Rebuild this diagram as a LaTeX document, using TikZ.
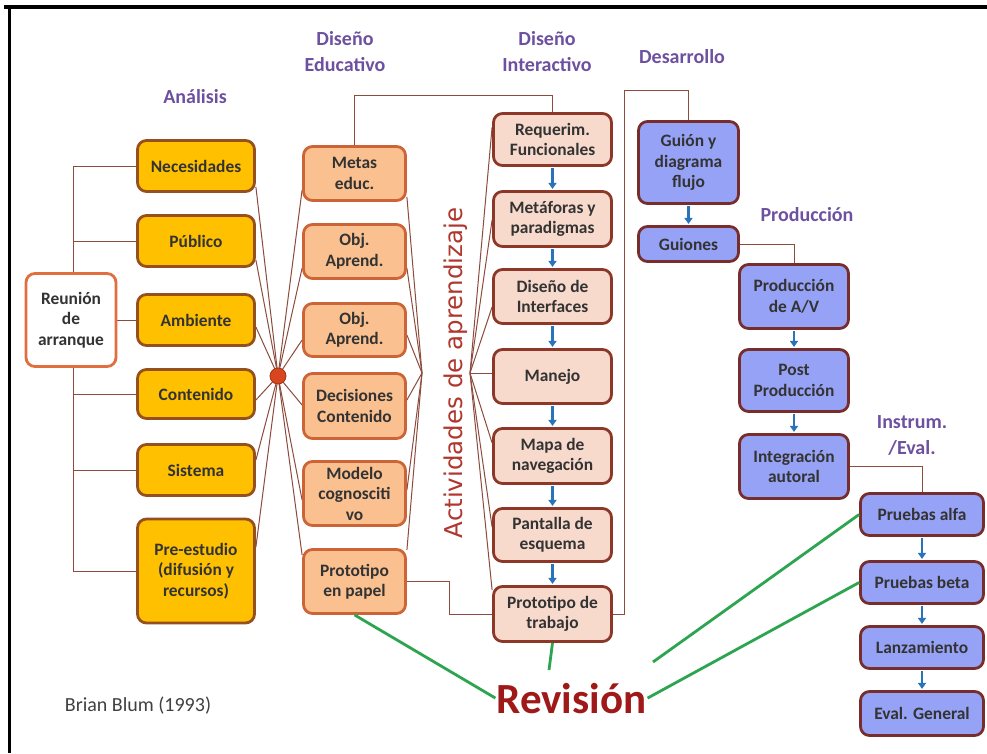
\documentclass[tikz,border=0pt]{standalone}
\usepackage{fontspec}
\setmainfont{Carlito}
\newfontfamily\verafont{DejaVu Sans}
\usetikzlibrary{backgrounds,arrows.meta,calc}

\definecolor{amber}{RGB}{255,192,0}
\definecolor{amberedge}{RGB}{150,80,30}
\definecolor{startedge}{RGB}{225,110,60}
\definecolor{peach}{RGB}{250,192,144}
\definecolor{peachedge}{RGB}{205,100,55}
\definecolor{blush}{RGB}{248,218,205}
\definecolor{blushedge}{RGB}{140,55,40}
\definecolor{periw}{RGB}{150,162,245}
\definecolor{periwedge}{RGB}{120,45,45}
\definecolor{linkbrown}{RGB}{140,75,60}
\definecolor{hubred}{RGB}{215,70,30}
\definecolor{flowblue}{RGB}{40,115,185}
\definecolor{revgreen}{RGB}{45,165,80}
\definecolor{phase}{RGB}{110,80,160}
\definecolor{revred}{RGB}{160,25,25}
\definecolor{actred}{RGB}{175,55,45}

\tikzset{
  box/.style={rounded corners=9pt, line width=2.8pt, align=center,
    font=\fontsize{17.4}{20.5}\selectfont\bfseries, text=black!80, inner sep=2pt},
  yel/.style={box, fill=amber, draw=amberedge, minimum width=117pt},
  startbox/.style={box, fill=white, draw=startedge, minimum width=90pt, minimum height=93pt},
  edu/.style={box, fill=peach, draw=peachedge, minimum width=102pt},
  inter/.style={box, fill=blush, draw=blushedge, minimum width=118pt},
  dev/.style={box, fill=periw, draw=periwedge},
  phaselabel/.style={font=\fontsize{20}{26}\selectfont\bfseries, text=phase, align=center},
  link/.style={draw=linkbrown, line width=1pt},
  flow/.style={draw=flowblue, line width=2.4pt, -{Triangle[length=6pt,width=8pt]}, shorten >=1.2pt, shorten <=1.2pt},
  review/.style={draw=revgreen, line width=2.8pt}
}

\begin{document}
\begin{tikzpicture}[x=1pt,y=-1pt]
\useasboundingbox (0,0) rectangle (987,753);

% frame
\draw[line width=3.6pt] (4,7) -- (987,7);
\draw[line width=3.6pt] (9.5,5) -- (9.5,753);

% phase titles
\node[phaselabel] (tAna) at (195,97) {Análisis};
\node[phaselabel] (tEdu) at (345,52) {Diseño\\Educativo};
\node[phaselabel] (tInt) at (547,52) {Diseño\\Interactivo};
\node[phaselabel] (tDes) at (682,57) {Desarrollo};
\node[phaselabel] (tPro) at (807,215) {Producción};
\node[phaselabel] (tIns) at (912,435) {Instrum.\\/Eval.};

% Análisis
\node[startbox] (reu) at (71,320) {Reunión\\de\\arranque};
\node[yel, minimum height=51pt] (nec) at (196,166) {Necesidades};
\node[yel, minimum height=51pt] (pub) at (196,241) {Público};
\node[yel, minimum height=51pt] (amb) at (196,320) {Ambiente};
\node[yel, minimum height=49pt] (con) at (196,394) {Contenido};
\node[yel, minimum height=51pt] (sis) at (196,470) {Sistema};
\node[yel, minimum height=104pt] (pre) at (196,571) {Pre-estudio\\(difusión y\\recursos)};

% hub
\node[circle, fill=hubred, draw=hubred!75!black, line width=0.8pt,
      minimum size=16pt, inner sep=0pt] (hub) at (278,376) {};

% Diseño educativo
\node[edu, minimum height=54pt] (metas) at (354.5,173.5) {Metas\\educ.};
\node[edu, minimum height=54pt] (obj1) at (354.5,251.5) {Obj.\\Aprend.};
\node[edu, minimum height=53pt] (obj2) at (354.5,330) {Obj.\\Aprend.};
\node[edu, minimum height=65pt] (dec) at (354.5,406) {Decisiones\\Contenido};
\node[edu, minimum height=64pt] (mod) at (354.5,493.5) {Modelo\\cognosciti\\vo};
\node[edu, minimum height=64pt] (protp) at (354.5,581.5) {Prototipo\\en papel};

\node[rotate=90, font=\verafont\fontsize{24.5}{26}\selectfont, text=actred] (act) at (456,373) {Actividades de aprendizaje};
\coordinate (edR) at (422,373);
\coordinate (inL) at (470,373);

% Diseño interactivo
\node[inter, minimum height=52pt] (req) at (552.5,139.5) {Requerim.\\Funcionales};
\node[inter, minimum height=55pt] (metf) at (552.5,219) {Metáforas y\\paradigmas};
\node[inter, minimum height=54pt] (disi) at (552.5,296.5) {Diseño de\\Interfaces};
\node[inter, minimum height=54pt] (man) at (552.5,376.5) {Manejo};
\node[inter, minimum height=55pt] (mapa) at (552.5,456) {Mapa de\\navegación};
\node[inter, minimum height=53pt] (pant) at (552.5,535) {Pantalla de\\esquema};
\node[inter, minimum height=55pt] (prott) at (552.5,614) {Prototipo de\\trabajo};

% Desarrollo / Producción / Instrumentación
\node[dev, minimum width=100pt, minimum height=82pt] (guion) at (688.5,162.5) {Guión y\\diagrama\\flujo};
\node[dev, minimum width=100pt, minimum height=35pt] (guiones) at (688.5,244) {Guiones};
\node[dev, minimum width=109pt, minimum height=64pt] (prodav) at (794,296.5) {Producción\\de A/V};
\node[dev, minimum width=109pt, minimum height=62pt] (post) at (794,380.5) {Post\\Producción};
\node[dev, minimum width=109pt, minimum height=64pt] (integ) at (794,466.5) {Integración\\autoral};
\node[dev, minimum width=123pt, minimum height=42pt] (alfa) at (922,514.5) {Pruebas alfa};
\node[dev, minimum width=123pt, minimum height=42pt] (beta) at (922,582.5) {Pruebas beta};
\node[dev, minimum width=123pt, minimum height=42pt] (lanz) at (922,647.5) {Lanzamiento};
\node[dev, minimum width=123pt, minimum height=44pt] (evalg) at (922,713.5) {Eval. General};

% review and credit
\node[font=\fontsize{43}{46}\selectfont\bfseries, text=revred, anchor=base, inner sep=1pt] (rev) at (571.5,713) {Revisión};
\node[font=\fontsize{20}{22}\selectfont, text=black!75] (cred) at (138,706) {Brian Blum (1993)};

\coordinate (busT) at (73,166);
\coordinate (toDev) at (624,90);
\coordinate (revTop) at (549,670);
\coordinate (revR) at (653,662);

\begin{pgfonlayer}{background}
  \fill[white] (0,0) rectangle (987,753);
  % start meeting bus
  \draw[link] (nec.west) -- (busT) -- (busT |- pre.west) -- (pre.west);
  \foreach \n in {pub,con,sis} \draw[link] (\n.west) -- (\n.west -| busT);
  \draw[link] (reu.east) -- (amb.west);
  % hub fan
  \foreach \n/\y in {nec/187,pub/260,amb/327,con/400,sis/460,pre/547}
    \draw[link] (hub.center) -- (\n.east |- 0,\y);
  \foreach \n/\y in {metas/190,obj1/268,obj2/340,dec/405,mod/500,protp/555}
    \draw[link] (hub.center) -- (\n.west |- 0,\y);
  % learning activities fans
  \foreach \n/\y in {metas/197,obj1/268,obj2/335,dec/400,mod/490,protp/550}
    \draw[link] (edR) -- (\n.east |- 0,\y);
  \foreach \n/\y in {req/127,metf/220,disi/307,man/373,mapa/443,pant/527,prott/590}
    \draw[link] (inL) -- (\n.west |- 0,\y);
  % phase links
  \draw[link] (metas.north) -- (metas.north |- 0,95) -| (req.north);
  \draw[link] (protp.east) -- ++(43,0) |- (prott.west);
  \draw[link] (prott.east) -| (toDev) -| (guion.north);
  \draw[link] (guiones.east) -| (prodav.north);
  \draw[link] (integ.east) -| (alfa.north);
\end{pgfonlayer}

% sequence arrows
\draw[flow] (req.south) -- (metf.north);
\draw[flow] (metf.south) -- (disi.north);
\draw[flow] (disi.south) -- (man.north);
\draw[flow] (man.south) -- (mapa.north);
\draw[flow] (mapa.south) -- (pant.north);
\draw[flow] (pant.south) -- (prott.north);
\draw[flow] (guion.south) -- (guiones.north);
\draw[flow] (prodav.south) -- (post.north);
\draw[flow] (post.south) -- (integ.north);
\draw[flow] (alfa.south) -- (beta.north);
\draw[flow] (beta.south) -- (lanz.north);
\draw[flow] (lanz.south) -- (evalg.north);

% review links
\draw[review] (protp.south) -- (rev.west);
\draw[review] (prott.south) -- (revTop);
\draw[review] (alfa.west) -- (revR);
\draw[review] (beta.west) -- (rev.east);
\end{tikzpicture}
\end{document}
